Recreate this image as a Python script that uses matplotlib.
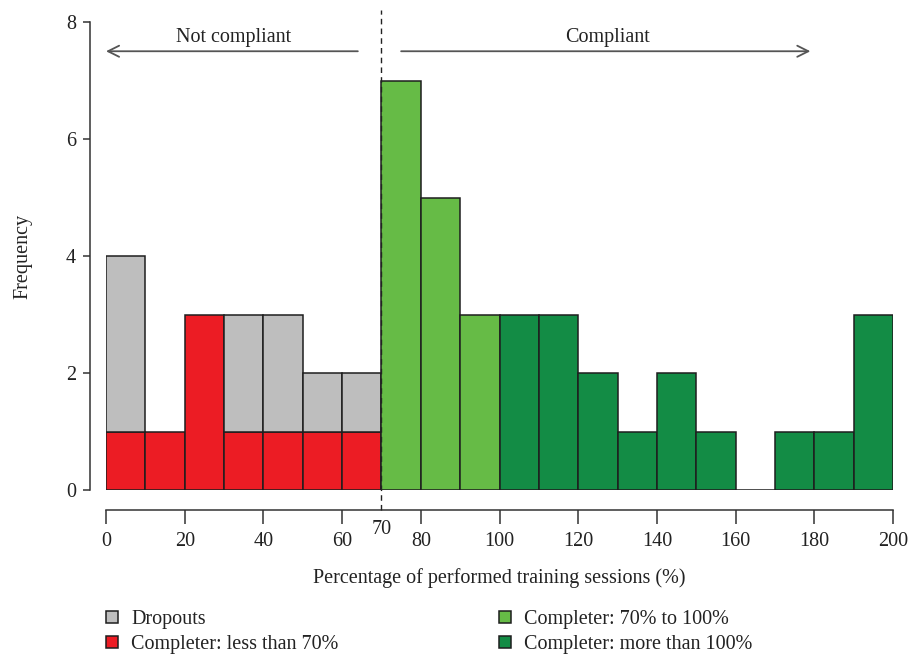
import numpy as np
import matplotlib
matplotlib.use("Agg")
import matplotlib.pyplot as plt
from matplotlib.patches import Rectangle

plt.rcParams['font.family'] = ['Liberation Serif', 'DejaVu Serif']

# Bin edges: 10-point bins over 0-200 %
bin_left = list(range(0, 200, 10))

# Counts per bin (0-10, 10-20, ..., 190-200)
completer_lt70 = [1, 1, 3, 1, 1, 1, 1, 0, 0, 0, 0, 0, 0, 0, 0, 0, 0, 0, 0, 0]
dropouts       = [3, 0, 0, 2, 2, 1, 1, 0, 0, 0, 0, 0, 0, 0, 0, 0, 0, 0, 0, 0]
completer_70_100 = [0, 0, 0, 0, 0, 0, 0, 7, 5, 3, 0, 0, 0, 0, 0, 0, 0, 0, 0, 0]
completer_gt100  = [0, 0, 0, 0, 0, 0, 0, 0, 0, 0, 3, 3, 2, 1, 2, 1, 0, 1, 1, 3]

x_ticks = [0, 20, 40, 60, 80, 100, 120, 140, 160, 180, 200]
y_ticks = [0, 2, 4, 6, 8]
cutoff = 70

legend_labels = ['Dropouts', 'Completer: less than 70%',
                 'Completer: 70% to 100%', 'Completer: more than 100%']

c_gray = '#BEBEBE'
c_red = '#EC1C24'
c_lgreen = '#66BB46'
c_dgreen = '#138C45'
edge = '#1e1e1e'
txt = '#222222'
FS = 14.5

W, H = 911, 655
fig = plt.figure(figsize=(W / 100, H / 100), dpi=100)
ax = fig.add_axes([106 / W, (H - 490) / H, 787 / W, 468 / H])
ax.set_xlim(0, 200)
ax.set_ylim(0, 8)

bar_kw = dict(width=10, align='edge', edgecolor=edge, linewidth=1.1)
ax.bar(bin_left[:7], completer_lt70[:7], color=c_red, **bar_kw)
gray = ax.bar(bin_left[:7], dropouts[:7], bottom=completer_lt70[:7],
              color=c_gray, **bar_kw)
for p in gray:
    if p.get_height() == 0:
        p.set_visible(False)
ax.bar(bin_left[7:10], completer_70_100[7:10], color=c_lgreen, **bar_kw)
ax.bar(bin_left[10:], completer_gt100[10:], color=c_dgreen, **bar_kw)

# Spines in the detached style
for s in ('top', 'right'):
    ax.spines[s].set_visible(False)
ax.spines['left'].set_position(('outward', 16 * 0.72))
ax.spines['bottom'].set_position(('outward', 20 * 0.72))
ax.spines['left'].set_bounds(0, 8)
ax.spines['bottom'].set_bounds(0, 200)
for s in ('left', 'bottom'):
    ax.spines[s].set_color('#333333')
    ax.spines[s].set_linewidth(1.1)

ax.set_xticks(x_ticks)
ax.set_yticks(y_ticks)
ax.tick_params(axis='x', length=10, width=1.1, color='#333333', labelsize=FS,
               pad=6, labelcolor=txt)
ax.tick_params(axis='y', length=5, width=1.1, color='#333333', labelsize=FS,
               pad=5, labelcolor=txt)

ax.set_xlabel('Percentage of performed training sessions (%)', fontsize=FS,
              color=txt, labelpad=12)
ax.set_ylabel('Frequency', fontsize=FS, color=txt, labelpad=24)

# Compliance cutoff
ax.plot([cutoff, cutoff], [-0.342, 8.2], ls=(0, (4, 3)), color=txt,
        lw=1.0, clip_on=False, zorder=5)
ax.text(cutoff, -0.52, '70', ha='center', va='top', fontsize=FS, color=txt)

# Region arrows
arrow_kw = dict(arrowstyle='->', color='#555555', lw=1.3,
                mutation_scale=20, shrinkA=0, shrinkB=0)
ax.annotate('', xy=(0, 7.5), xytext=(64, 7.5), arrowprops=arrow_kw,
            annotation_clip=False)
ax.annotate('', xy=(179, 7.5), xytext=(75, 7.5), arrowprops=arrow_kw,
            annotation_clip=False)
ax.text(32.5, 7.58, 'Not compliant', ha='center', va='bottom', fontsize=FS,
        color=txt)
ax.text(127.5, 7.58, 'Compliant', ha='center', va='bottom', fontsize=FS,
        color=txt)

# Legend, two columns laid out in figure pixels
colors = [c_gray, c_red, c_lgreen, c_dgreen]
col_x = [106, 499]
row_y = [617, 642]
for i, (lab, col) in enumerate(zip(legend_labels, colors)):
    cx = col_x[i // 2]
    cy = row_y[i % 2]
    fig.patches.append(Rectangle((cx / W, (H - cy - 6) / H), 12 / W, 12 / H,
                                 transform=fig.transFigure, facecolor=col,
                                 edgecolor=edge, linewidth=1.1))
    fig.text((cx + 25) / W, (H - cy) / H, lab, ha='left', va='center_baseline',
             fontsize=FS, color=txt)

fig.savefig('out.png', dpi=100)
